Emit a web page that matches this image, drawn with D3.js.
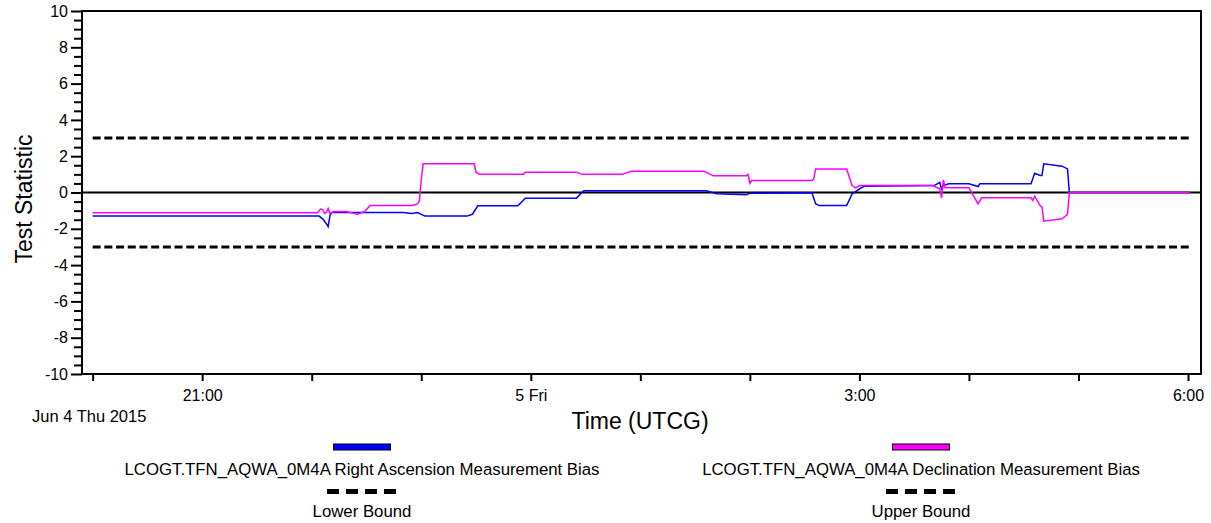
<!DOCTYPE html>
<html>
<head>
<meta charset="utf-8">
<script src="https://cdn.jsdelivr.net/npm/d3@7"></script>
<style>
  body { margin: 0; background: #fff; }
  svg text { font-family: "Liberation Sans", Arial, sans-serif; fill: #000; }
</style>
</head>
<body>
<svg id="chart" width="1211" height="523"></svg>
<script>
// times are UTCG, 20:00-23:59 on Jun 4, 00:00-06:xx on Jun 5
var raTimes = ["20:00","22:04","22:06","22:08","22:09","22:10","22:11","22:50","22:55","22:58","23:02","23:25","23:28","23:31","23:53","23:57","00:25","00:29","01:36","01:42","01:58","02:00","02:34","02:36","02:38","02:53","02:56","03:01","03:03","03:41","03:44","03:45","03:46","03:49","04:00","04:05","04:06","04:34","04:36","04:39","04:40","04:41","04:51","04:54","04:55","06:01"]
var raValues = [-1.30,-1.30,-1.45,-1.72,-1.88,-1.27,-1.10,-1.10,-1.16,-1.10,-1.30,-1.30,-1.20,-0.73,-0.73,-0.31,-0.31,0.10,0.10,-0.07,-0.13,-0.04,-0.02,-0.62,-0.72,-0.72,-0.08,0.26,0.35,0.38,0.56,0.20,0.38,0.48,0.48,0.33,0.48,0.48,1.06,0.94,0.94,1.58,1.45,1.30,0,0]

var decTimes = ["20:00","22:03","22:05","22:06","22:07","22:08","22:09","22:10","22:12","22:19","22:25","22:29","22:32","22:55","22:58","22:59","23:00","23:01","23:29","23:30","23:32","23:56","23:57","00:25","00:28","00:50","00:55","01:35","01:40","01:58","01:59","02:00","02:01","02:34","02:35","02:36","02:53","02:56","02:58","03:00","03:40","03:44","03:45","03:46","03:47","04:00","04:05","04:07","04:34","04:35","04:36","04:39","04:40","04:41","04:51","04:54","04:55","06:01"]
var decValues = [-1.12,-1.12,-0.90,-0.95,-1.15,-1.10,-0.88,-1.15,-1.05,-1.05,-1.20,-1.05,-0.72,-0.72,-0.63,-0.45,0.70,1.58,1.58,1.12,1.00,1.00,1.12,1.12,1.00,1.00,1.17,1.17,0.92,0.92,1.00,0.51,0.66,0.66,0.75,1.30,1.30,0.38,0.26,0.38,0.38,0.20,-0.30,0.70,0.26,0.26,-0.62,-0.29,-0.29,-0.44,-0.20,-0.72,-0.81,-1.58,-1.45,-1.21,0,0]

var boundTimes = ["20:00","06:01"]
var upperBound = [3, 3]
var lowerBound = [-3, -3]

var yTicks = d3.range(-10, 10.01, 0.5)
var xLabels = {21: "21:00", 0: "5 Fri", 3: "3:00", 6: "6:00"}

var legendItems = [
  {label: "LCOGT.TFN_AQWA_0M4A Right Ascension Measurement Bias", color: "#0000ff"},
  {label: "LCOGT.TFN_AQWA_0M4A Declination Measurement Bias", color: "#ff00ff"},
  {label: "Lower Bound", color: null},
  {label: "Upper Bound", color: null}
]

var parse = d3.utcParse("%Y-%m-%d %H:%M")
function toDate(t) {
  var h = +t.slice(0, 2)
  return parse((h >= 12 ? "2015-06-04 " : "2015-06-05 ") + t)
}
function series(times, values) {
  return times.map((t, i) => ({t: toDate(t), v: values[i]}))
}

var svg = d3.select("#chart")
// plot box (window.top is reserved, so not "top")
var plotLeft = 82, plotRight = 1201, plotTop = 11, plotBottom = 374

var x = d3.scaleUtc()
  .domain([new Date(Date.UTC(2015, 5, 4, 19, 54, 10)), new Date(Date.UTC(2015, 5, 5, 6, 7, 7))])
  .range([plotLeft, plotRight])
var y = d3.scaleLinear().domain([-10, 10]).range([plotBottom, plotTop])

var line = d3.line().x(d => x(d.t)).y(d => y(d.v))

// bounds
svg.append("path").datum(series(boundTimes, upperBound))
  .attr("d", line).attr("fill", "none").attr("stroke", "#000")
  .attr("stroke-width", 3).attr("stroke-dasharray", "8,3.7")
svg.append("path").datum(series(boundTimes, lowerBound))
  .attr("d", line).attr("fill", "none").attr("stroke", "#000")
  .attr("stroke-width", 3).attr("stroke-dasharray", "8,3.7")

// zero line
svg.append("line")
  .attr("x1", plotLeft).attr("x2", plotRight)
  .attr("y1", y(0)).attr("y2", y(0))
  .attr("stroke", "#000").attr("stroke-width", 2)

svg.append("path").datum(series(raTimes, raValues))
  .attr("d", line).attr("fill", "none").attr("stroke", "#0000ff").attr("stroke-width", 1.5)
svg.append("path").datum(series(decTimes, decValues))
  .attr("d", line).attr("fill", "none").attr("stroke", "#ff00ff").attr("stroke-width", 1.5)

// frame
svg.append("rect")
  .attr("x", plotLeft).attr("y", plotTop)
  .attr("width", plotRight - plotLeft).attr("height", plotBottom - plotTop)
  .attr("fill", "none").attr("stroke", "#000").attr("stroke-width", 2)

// y axis
var yAxis = svg.append("g").attr("transform", `translate(${plotLeft},0)`)
  .call(d3.axisLeft(y).tickValues(yTicks).tickSize(11).tickPadding(3)
    .tickFormat(d => d % 2 === 0 ? String(d) : ""))
yAxis.select(".domain").remove()
yAxis.selectAll(".tick line")
  .attr("x2", d => d % 2 === 0 ? -11 : -8)
  .attr("stroke-width", 2)
yAxis.selectAll("text").style("font-size", "16px").attr("font-family", null)

// x axis
var xAxis = svg.append("g").attr("transform", `translate(0,${plotBottom})`)
  .call(d3.axisBottom(x).ticks(d3.utcHour.every(1)).tickSize(7).tickPadding(9)
    .tickFormat(d => xLabels[d.getUTCHours()] || ""))
xAxis.select(".domain").remove()
xAxis.selectAll(".tick line").attr("stroke-width", 2)
xAxis.selectAll("text").style("font-size", "16px").attr("font-family", null)

svg.append("text").attr("x", 32).attr("y", 422)
  .style("font-size", "16.5px").text("Jun 4 Thu 2015")

svg.append("text").attr("x", 640).attr("y", 429)
  .attr("text-anchor", "middle").style("font-size", "23px").text("Time (UTCG)")

svg.append("text").attr("transform", "translate(32,199) rotate(-90)")
  .attr("text-anchor", "middle").style("font-size", "23px").text("Test Statistic")

// legend
var legendX = [362, 921]
legendItems.forEach((item, i) => {
  var cx = legendX[i % 2]
  var row = Math.floor(i / 2)
  var sy = row === 0 ? 447 : 491.5
  if (item.color) {
    svg.append("rect").attr("x", cx - 28.5).attr("y", sy - 3).attr("width", 57).attr("height", 6)
      .attr("fill", item.color).attr("stroke", "#000").attr("stroke-width", 1)
  } else {
    svg.append("line").attr("x1", cx - 35).attr("x2", cx + 34).attr("y1", sy).attr("y2", sy)
      .attr("stroke", "#000").attr("stroke-width", 5).attr("stroke-dasharray", "12,7")
  }
  svg.append("text").attr("x", cx).attr("y", row === 0 ? 475 : 517)
    .attr("text-anchor", "middle").style("font-size", "16.8px").text(item.label)
})
</script>
</body>
</html>
